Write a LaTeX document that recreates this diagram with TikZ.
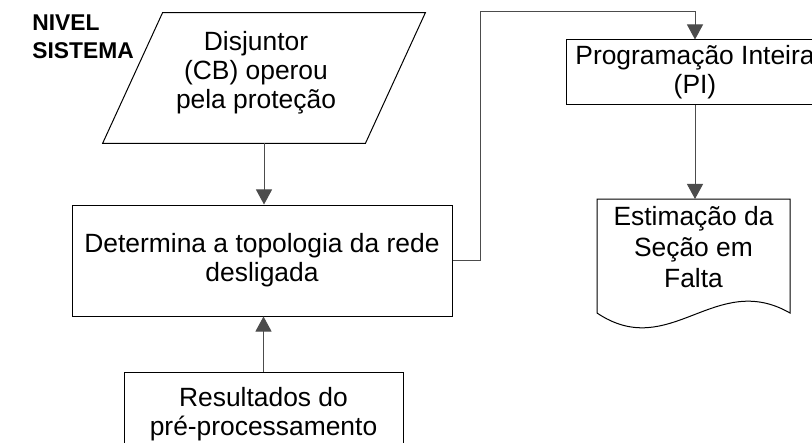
\documentclass[tikz,border=0pt]{standalone}
\usepackage{fontspec}
\setmainfont{Liberation Sans}
\usepackage{tikz}
\usetikzlibrary{arrows.meta}
\tikzset{
  txt/.style={align=center, inner sep=0pt, font=\fontsize{13.2}{14.4}\selectfont},
  box/.style={txt, draw, line width=0.5pt},
  arr/.style={draw=black!70, line width=0.5pt, -{Triangle[width=8pt,length=7.5pt]}}
}
\begin{document}
\begin{tikzpicture}[x=0.5pt, y=-0.5pt]
\useasboundingbox (0,0) rectangle (812,443);

\node[anchor=north west, align=left, inner sep=0pt,
  font=\bfseries\fontsize{11.4}{14.2}\selectfont] (lvl) at (32,14) {NIVEL\\SISTEMA};

% paralelogramo
\node[minimum width=131pt, minimum height=65pt, inner sep=0pt] (cb) at (264,78) {};
\draw[line width=0.5pt] ([xshift=15pt]cb.north west) -- ([xshift=15pt]cb.north east)
  -- ([xshift=-15pt]cb.south east) -- ([xshift=-15pt]cb.south west) -- cycle;
\node[txt] (cbtxt) at (256,73) {Disjuntor\\(CB) operou\\pela prote\c{c}\~ao};

\node[box, minimum width=190pt, minimum height=55.5pt] (topo) at (262,260.5)
  {Determina a topologia da rede\\desligada};
\node[box, minimum width=139.5pt, minimum height=42pt] (pre) at (263.5,414)
  {Resultados do\\pr\'e-processamento};
\node[box, minimum width=129pt, minimum height=32.5pt] (pi) at (695,72.5)
  {Programa\c{c}\~ao Inteira\\(PI)};

% documento
\node[txt, font=\fontsize{13.2}{15.5}\selectfont, minimum width=96.5pt] (est) at (693.5,247)
  {Estima\c{c}\~ao da\\Se\c{c}\~ao em\\Falta};
\draw[line width=0.5pt] (597,313) -- (597,199) -- (790,199) -- (790,313)
  .. controls (715,270) and (670,362) .. (597,313);

\coordinate (bend) at (480,12);
\draw[arr] (cb.south) -- (cb.south |- topo.north);
\draw[arr] (pre.north) -- (pre.north |- topo.south);
\draw[arr] (topo.east) -| (bend) -| (pi.north);
\draw[arr] (pi.south) -- (pi.south |- 0,199);

\end{tikzpicture}
\end{document}
